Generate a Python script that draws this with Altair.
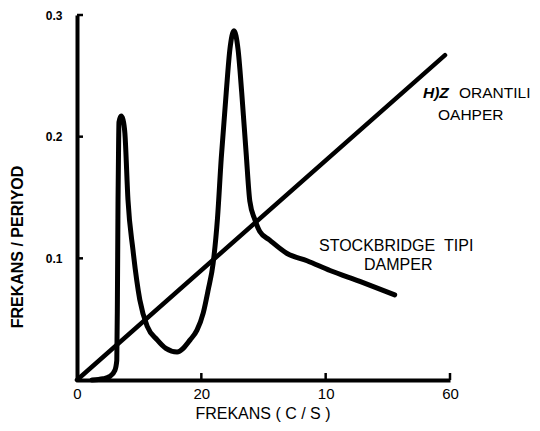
import altair as alt
import pandas as pd

# Resonance curve (Stockbridge type damper)
curve_x = [2.4, 4.2, 5.3, 6.1, 6.4, 6.5, 6.6, 6.7, 6.75, 7.1, 7.4, 7.7, 8.2, 9.0, 10.1,
           11.3, 12.9, 14.3, 16.1, 18.2, 19.3, 20.3, 21.1, 21.9, 22.6, 23.2, 24.0, 24.6,
           25.25, 25.9, 26.5, 27.2, 27.8, 28.6, 29.4, 31.0, 33.8, 37.0, 40.7, 45.5, 51.1]
curve_y = [0.0, 0.001, 0.003, 0.008, 0.016, 0.066, 0.148, 0.197, 0.212, 0.217, 0.214,
           0.203, 0.148, 0.107, 0.066, 0.044, 0.033, 0.026, 0.023, 0.033, 0.041, 0.055,
           0.074, 0.096, 0.133, 0.182, 0.236, 0.272, 0.287, 0.272, 0.236, 0.187, 0.147,
           0.132, 0.122, 0.115, 0.104, 0.098, 0.090, 0.081, 0.070]

# Proportional damper line
line_x = [0, 59.2]
line_y = [0, 0.267]

x_ticks = [0, 20, 40, 60]
x_tick_labels = ["0", "20", "10", "60"]
y_ticks = [0.1, 0.2, 0.3]
y_tick_labels = ["0.1", "0.2", "0.3"]

curve_df = pd.DataFrame({"x": curve_x, "y": curve_y, "i": range(len(curve_x))})
line_df = pd.DataFrame({"x": line_x, "y": line_y, "i": range(len(line_x))})

label_expr_x = " : ".join(
    [f"datum.value == {v} ? '{l}'" for v, l in zip(x_ticks, x_tick_labels)]) + " : ''"
label_expr_y = " : ".join(
    [f"abs(datum.value - {v}) < 0.001 ? '{l}'" for v, l in zip(y_ticks, y_tick_labels)]) + " : ''"

FONT = "Liberation Sans"

xs = alt.Scale(domain=[0, 60], nice=False, zero=False)
ys = alt.Scale(domain=[0, 0.3], nice=False, zero=False)

x_axis = alt.Axis(values=x_ticks, labelExpr=label_expr_x, ticks=False, grid=False,
                  domainColor="black", domainWidth=4, labelFont=FONT, labelFontSize=15,
                  labelColor="black", labelPadding=6, title=None, labelFlush=False)
y_axis = alt.Axis(values=y_ticks, labelExpr=label_expr_y, ticks=False, grid=False,
                  domainColor="black", domainWidth=4, labelFont=FONT, labelFontSize=12,
                  labelFontWeight="bold", labelColor="black", labelPadding=15, title=None)

base_curve = alt.Chart(curve_df).mark_line(
    color="black", strokeWidth=5, strokeCap="round", strokeJoin="round",
    interpolate="monotone"
).encode(
    x=alt.X("x:Q", scale=xs, axis=x_axis),
    y=alt.Y("y:Q", scale=ys, axis=y_axis),
    order="i:Q",
)

line = alt.Chart(line_df).mark_line(
    color="black", strokeWidth=4.5, strokeCap="round"
).encode(x=alt.X("x:Q", scale=xs), y=alt.Y("y:Q", scale=ys), order="i:Q")

ytick_df = pd.DataFrame({"y": y_ticks})
xtick_df = pd.DataFrame({"x": x_ticks[1:]})
yt = alt.Chart(ytick_df).mark_rule(color="black", strokeWidth=2.5).encode(
    y=alt.Y("y:Q", scale=ys), x=alt.value(0), x2=alt.value(6))
xt = alt.Chart(xtick_df).mark_rule(color="black", strokeWidth=2.5).encode(
    x=alt.X("x:Q", scale=xs), y=alt.value(365), y2=alt.value(358))

def txt(s, x, y, size=16, weight="normal", style="normal", angle=0, align="left",
        baseline="alphabetic"):
    return alt.Chart(pd.DataFrame({"t": [s]})).mark_text(
        font=FONT, fontSize=size, fontWeight=weight, fontStyle=style, angle=angle,
        align=align, baseline=baseline, color="black"
    ).encode(text="t:N", x=alt.value(x), y=alt.value(y))

annotations = [
    txt("H)Z", 346, 83, size=15.5, weight="bold", style="italic"),
    txt("ORANTILI", 382, 83, size=15.5),
    txt("OAHPER", 361, 105, size=15.5),
    txt("STOCKBRIDGE\u00a0\u00a0TIPI", 242, 236),
    txt("DAMPER", 287, 255),
    txt("FREKANS ( C / S )", 186, 404, align="center"),
    txt("FREKANS / PERIYOD", -59, 232, size=16, weight="bold", angle=270,
        align="center", baseline="middle"),
]

chart = alt.layer(base_curve, line, yt, xt, *annotations).properties(
    width=373, height=365,
    autosize=alt.AutoSizeParams(type="none"),
    padding={"left": 69, "top": 7, "right": 82, "bottom": 43},
    background="white",
).configure_view(stroke=None)

chart.save("out.html", embed_options={"renderer": "svg", "actions": False})
